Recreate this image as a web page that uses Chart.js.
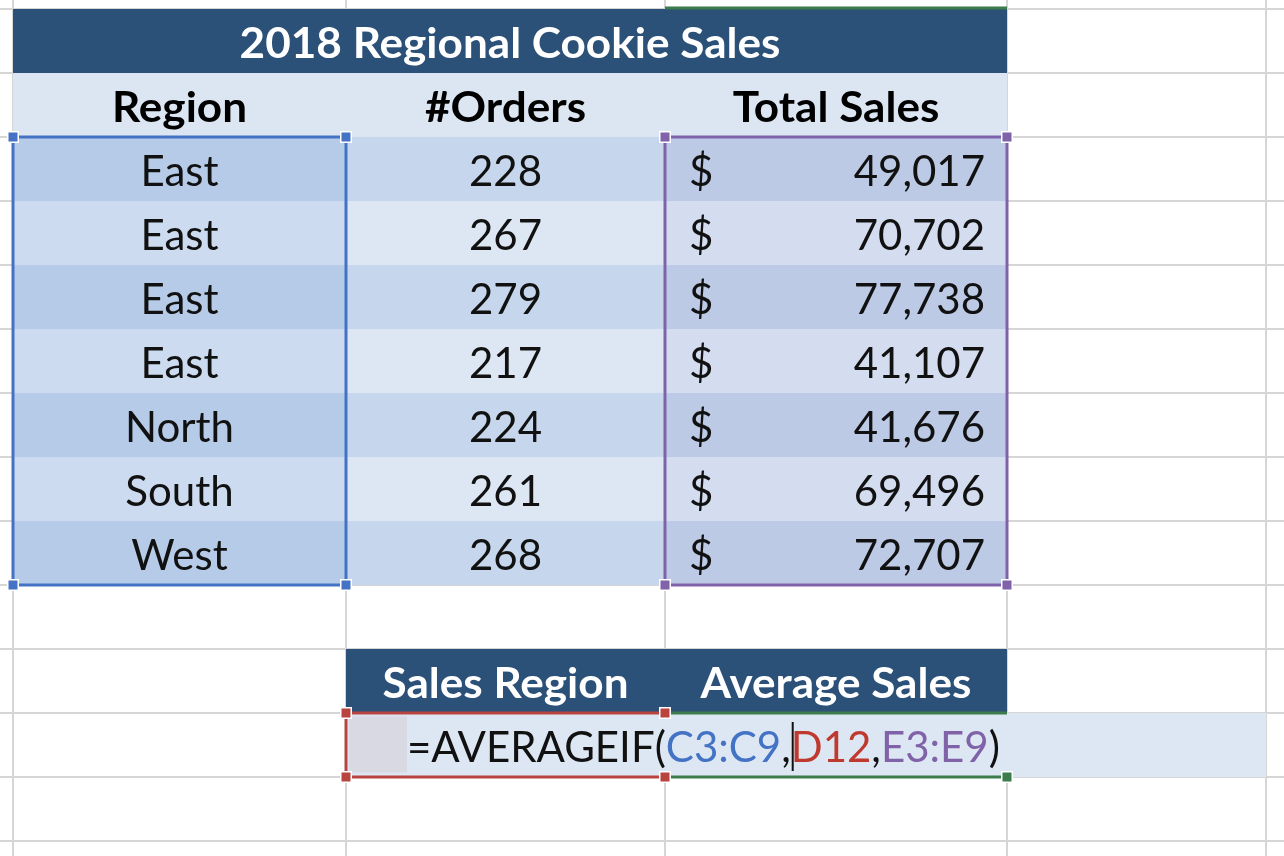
<!DOCTYPE html>
<html lang="en">
<head>
  <meta charset="UTF-8">
  <script src="https://cdn.jsdelivr.net/npm/chart.js"></script>
  <title>2018 Regional Cookie Sales</title>
  <style>
    html, body { margin: 0; padding: 0; background: #fff; }
    #wrap { width: 1284px; height: 856px; }
  </style>
</head>
<body>
  <div id="wrap"><canvas id="sheet"></canvas></div>
  <script>
    // table content
    const tableTitle = '2018 Regional Cookie Sales';
    const headers = ['Region', '#Orders', 'Total Sales'];
    const regions = ['East', 'East', 'East', 'East', 'North', 'South', 'West'];
    const orders = [228, 267, 279, 217, 224, 261, 268];
    const totalSales = [49017, 70702, 77738, 41107, 41676, 69496, 72707];
    const lookupHeaders = ['Sales Region', 'Average Sales'];
    const formulaParts = ['=AVERAGEIF(', 'C3:C9', ',', 'D12', ',', 'E3:E9', ')'];

    // sheet layout (x in sheet units, y in row numbers)
    const colEdges = [13, 346, 665, 1007, 1266];
    const sheetWidth = 1284;
    const firstRow = 1 - 9 / 64;
    const lastRow = firstRow + 856 / 64;

    // styles
    const gridColor = '#d6d6d6';
    const titleFill = '#2c5179';
    const headerFill = '#dce6f2';
    const bandDark = ['#b5cbe7', '#c6d6ec', '#bccae6'];
    const bandLight = ['#ccdbef', '#dde7f4', '#d4ddf0'];
    const partColors = ['#111', '#4472c4', '#111', '#c0392f', '#111', '#8062a8', '#111'];
    const selBlue = '#4472c4', selPurple = '#7f62a9', selRed = '#b9443f', selGreen = '#3c7b4b';
    const fontFamily = 'Lato, "Open Sans", sans-serif';

    const sheetPlugin = {
      id: 'sheet',
      afterDraw(chart) {
        const { ctx, scales: { x, y } } = chart;
        const X = v => x.getPixelForValue(v);
        const Y = r => y.getPixelForValue(r);
        const bold = `bold 42px ${fontFamily}`;
        const normal = `42px ${fontFamily}`;
        const stretch = f => (f === bold ? 1.05 : 1.0);

        function fill(x0, x1, r0, r1, color) {
          ctx.fillStyle = color;
          ctx.fillRect(X(x0), Y(r0), X(x1) - X(x0), Y(r1) - Y(r0));
        }
        function text(str, px, py, align, font, color) {
          ctx.save();
          ctx.font = font;
          ctx.fillStyle = color;
          ctx.textAlign = align;
          ctx.textBaseline = 'alphabetic';
          ctx.translate(px, py);
          ctx.scale(stretch(font), 1);
          ctx.fillText(str, 0, 0);
          ctx.restore();
        }
        function textWidth(str, font) {
          ctx.font = font;
          return ctx.measureText(str).width * stretch(font);
        }
        function line(x0, y0, x1, y1, color) {
          ctx.strokeStyle = color;
          ctx.lineWidth = 3;
          ctx.beginPath();
          ctx.moveTo(x0, y0);
          ctx.lineTo(x1, y1);
          ctx.stroke();
        }
        function frame(x0, x1, r0, r1, color) {
          ctx.strokeStyle = color;
          ctx.lineWidth = 3;
          ctx.strokeRect(X(x0), Y(r0), X(x1) - X(x0), Y(r1) - Y(r0));
        }
        function handle(px, py, color) {
          ctx.fillStyle = '#fff';
          ctx.fillRect(px - 6, py - 6, 12, 12);
          ctx.fillStyle = color;
          ctx.fillRect(px - 4.5, py - 4.5, 9, 9);
        }
        const base = r => Y(r) + 49;
        const mid = (a, b) => (X(a) + X(b)) / 2;

        ctx.save();
        // gridlines
        ctx.strokeStyle = gridColor;
        ctx.lineWidth = 2;
        for (let r = 1; r <= Math.floor(lastRow); r++) {
          ctx.beginPath();
          ctx.moveTo(X(0), Y(r));
          ctx.lineTo(X(sheetWidth), Y(r));
          ctx.stroke();
        }
        colEdges.forEach(c => {
          ctx.beginPath();
          ctx.moveTo(X(c), Y(firstRow));
          ctx.lineTo(X(c), Y(lastRow));
          ctx.stroke();
        });

        // title and header rows
        fill(colEdges[0], colEdges[3], 1, 2, titleFill);
        text(tableTitle, mid(colEdges[0], colEdges[3]), base(1), 'center', bold, '#fff');
        fill(colEdges[0], colEdges[3], 2, 3, headerFill);
        headers.forEach((h, i) => {
          text(h, mid(colEdges[i], colEdges[i + 1]), base(2), 'center', bold, '#000');
        });

        // banded body rows
        regions.forEach((reg, i) => {
          const r = 3 + i;
          for (let c = 0; c < 3; c++) {
            fill(colEdges[c], colEdges[c + 1], r, r + 1, i % 2 === 0 ? bandDark[c] : bandLight[c]);
          }
          text(reg, mid(colEdges[0], colEdges[1]), base(r), 'center', normal, '#111');
          text(String(orders[i]), mid(colEdges[1], colEdges[2]), base(r), 'center', normal, '#111');
          text('$', X(colEdges[2]) + 24, base(r), 'left', normal, '#111');
          text(totalSales[i].toLocaleString('en-US'), X(colEdges[3]) - 22, base(r), 'right', normal, '#111');
        });

        // lookup block
        fill(colEdges[1], colEdges[3], 11, 12, titleFill);
        lookupHeaders.forEach((h, i) => {
          text(h, mid(colEdges[i + 1], colEdges[i + 2]), base(11), 'center', bold, '#fff');
        });
        fill(colEdges[1], colEdges[4], 12, 13, '#dde7f4');
        fill(colEdges[1] + 3, colEdges[1] + 61, 12.05, 12.93, '#d9d9e4');

        // selection frames
        frame(colEdges[0], colEdges[1], 3, 10, selBlue);
        frame(colEdges[2], colEdges[3], 3, 10, selPurple);
        line(X(colEdges[1]), Y(12), X(colEdges[2]), Y(12), selRed);
        line(X(colEdges[1]), Y(13), X(colEdges[2]), Y(13), selRed);
        line(X(colEdges[1]), Y(12), X(colEdges[1]), Y(13), selRed);
        line(X(colEdges[2]), Y(12), X(colEdges[3]), Y(12), selGreen);
        line(X(colEdges[2]), Y(13), X(colEdges[3]), Y(13), selGreen);
        line(X(colEdges[2]), Y(1) - 1, X(colEdges[3]), Y(1) - 1, selGreen);

        // formula being typed
        let px = X(colEdges[1] + 61);
        let cursorX = 0;
        formulaParts.forEach((p, i) => {
          text(p, px, base(12), 'left', normal, partColors[i]);
          px += textWidth(p, normal);
          if (i === 2) cursorX = px + 1;
        });
        ctx.fillStyle = '#111';
        ctx.fillRect(cursorX, Y(12) + 9, 2, 49);

        [[0, 3], [1, 3], [0, 10], [1, 10]].forEach(([c, r]) => handle(X(colEdges[c]), Y(r), selBlue));
        [[2, 3], [3, 3], [2, 10], [3, 10]].forEach(([c, r]) => handle(X(colEdges[c]), Y(r), selPurple));
        [[1, 12], [2, 12], [1, 13], [2, 13]].forEach(([c, r]) => handle(X(colEdges[c]), Y(r), selRed));
        handle(X(colEdges[3]), Y(13), selGreen);
        ctx.restore();
      }
    };

    new Chart(document.getElementById('sheet'), {
      type: 'scatter',
      data: { datasets: [] },
      options: {
        responsive: true,
        maintainAspectRatio: false,
        animation: false,
        layout: { padding: 0 },
        plugins: { legend: { display: false }, tooltip: { enabled: false } },
        scales: {
          x: { type: 'linear', display: false, min: 0, max: sheetWidth },
          y: { type: 'linear', display: false, min: firstRow, max: lastRow, reverse: true }
        }
      },
      plugins: [sheetPlugin]
    });
  </script>
</body>
</html>
